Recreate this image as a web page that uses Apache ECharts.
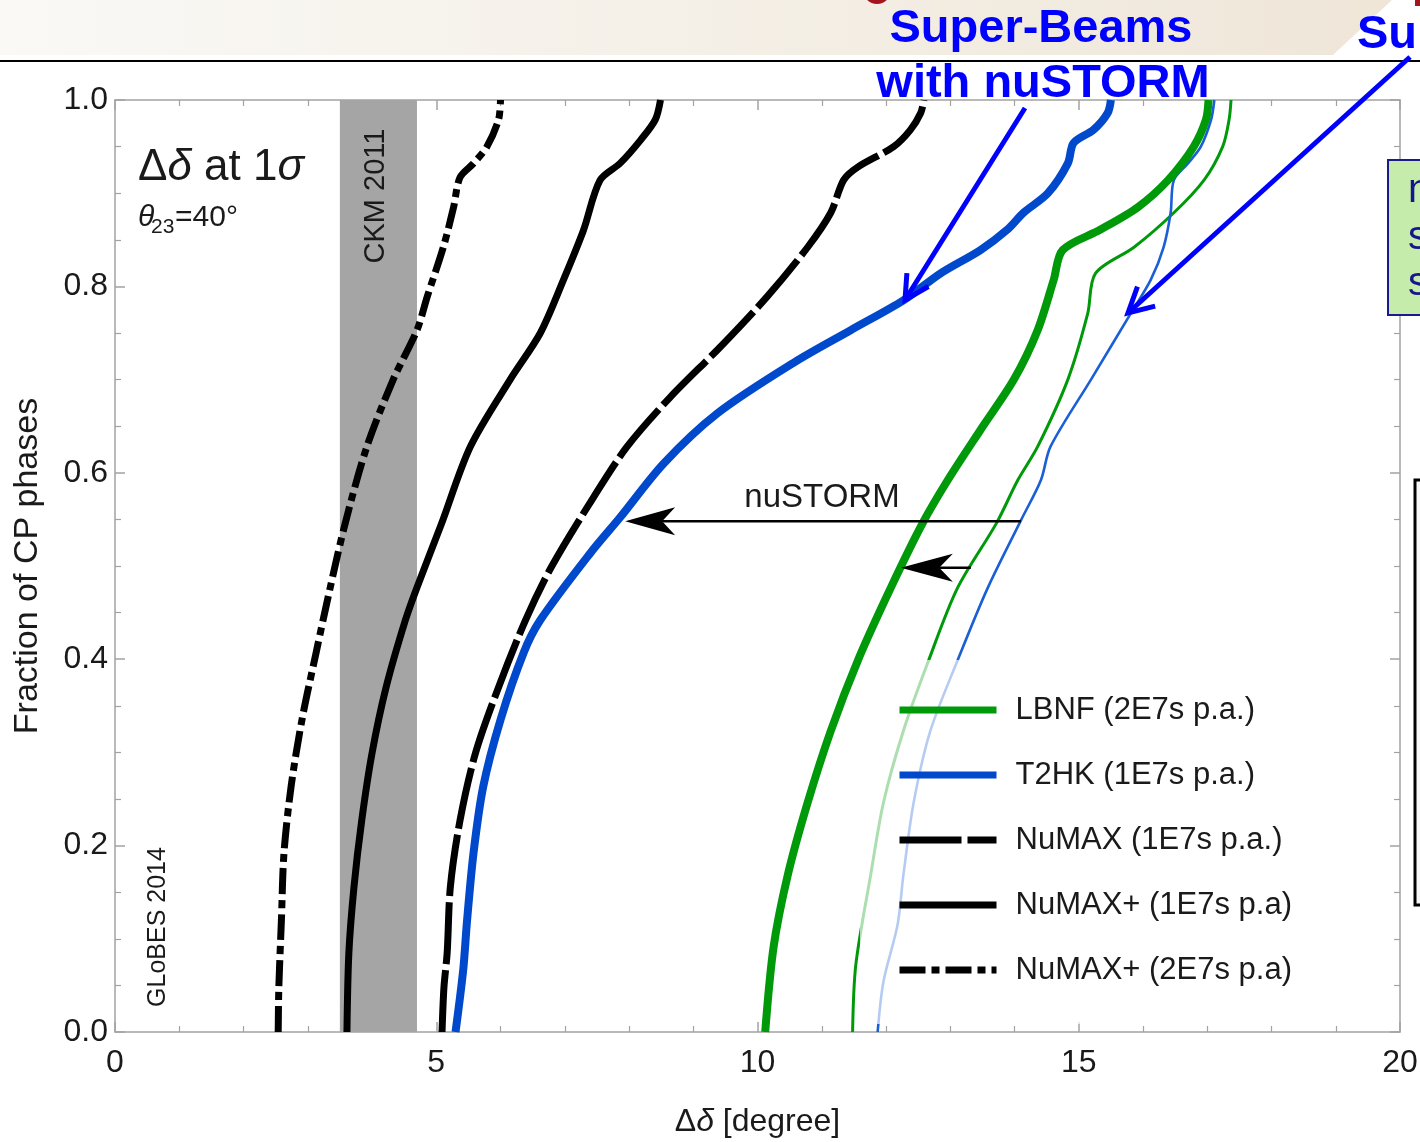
<!DOCTYPE html>
<html>
<head>
<meta charset="utf-8">
<script src="https://cdn.jsdelivr.net/npm/echarts@6/dist/echarts.min.js"></script>
<style>html,body{margin:0;padding:0;background:#fff;overflow:hidden}#c{width:1420px;height:1142px}</style>
</head>
<body>
<div id="c"></div>
<script>
// ---------- data (Δδ in degree, fraction of CP phases) ----------
const legendNames = ['LBNF (2E7s p.a.)', 'T2HK (1E7s p.a.)', 'NuMAX (1E7s p.a.)', 'NuMAX+ (1E7s p.a)', 'NuMAX+ (2E7s p.a)'];
const ckmBand = [3.5, 4.7];
const xTickValues = [0, 5, 10, 15, 20];
const yTickValues = [0, 0.2, 0.4, 0.6, 0.8, 1.0];

const lbnfWithNuSTORM = [[10.12,0],[10.25,0.091],[10.47,0.168],[10.78,0.246],[11.14,0.323],[11.57,0.40],[12.07,0.476],[12.57,0.546],[12.96,0.592],[13.47,0.646],[13.99,0.70],[14.36,0.753],[14.61,0.807],[14.75,0.839],[15.34,0.861],[15.92,0.885],[16.39,0.914],[16.79,0.95],[16.98,0.979],[17.02,1.0]];
const lbnfAlone = [[11.48,0],[11.53,0.072],[11.76,0.168],[11.96,0.246],[12.27,0.323],[12.66,0.398],[13.11,0.476],[13.72,0.546],[14.05,0.592],[14.36,0.628],[14.83,0.70],[15.14,0.771],[15.26,0.814],[15.86,0.842],[16.48,0.879],[16.95,0.914],[17.24,0.95],[17.34,0.979],[17.37,1.0]];
const t2hkWithNuSTORM = [[5.30,0],[5.42,0.067],[5.48,0.12],[5.58,0.192],[5.73,0.263],[6.00,0.335],[6.36,0.407],[6.62,0.442],[7.40,0.514],[7.86,0.552],[8.54,0.61],[9.38,0.664],[10.56,0.718],[11.45,0.753],[12.27,0.785],[12.85,0.814],[13.47,0.839],[13.89,0.861],[14.14,0.879],[14.52,0.90],[14.83,0.932],[14.92,0.954],[15.23,0.968],[15.45,0.986],[15.50,1.0]];
const t2hkAlone = [[11.87,0],[11.96,0.054],[12.18,0.115],[12.27,0.168],[12.43,0.246],[12.69,0.323],[13.11,0.398],[13.58,0.476],[14.10,0.549],[14.41,0.592],[14.56,0.628],[15.19,0.70],[15.81,0.771],[16.12,0.807],[16.32,0.842],[16.43,0.879],[16.48,0.914],[16.70,0.932],[16.90,0.95],[17.06,0.979],[17.11,1.0]];
const numax1E7 = [[5.09,0],[5.12,0.048],[5.17,0.085],[5.22,0.156],[5.37,0.227],[5.61,0.299],[5.97,0.37],[6.39,0.442],[6.80,0.50],[7.45,0.574],[7.97,0.628],[8.64,0.681],[9.42,0.735],[10.15,0.789],[10.78,0.842],[11.14,0.879],[11.34,0.914],[11.56,0.928],[12.12,0.95],[12.38,0.968],[12.54,0.986],[12.59,1.0]];
const numaxPlus1E7 = [[3.61,0],[3.64,0.085],[3.72,0.156],[3.84,0.227],[4.00,0.299],[4.22,0.37],[4.52,0.442],[4.70,0.477],[5.08,0.545],[5.53,0.628],[6.15,0.70],[6.62,0.75],[6.98,0.807],[7.29,0.86],[7.55,0.914],[7.86,0.932],[8.18,0.957],[8.41,0.979],[8.49,1.0]];
const numaxPlus2E7 = [[2.54,0],[2.55,0.048],[2.59,0.12],[2.63,0.192],[2.74,0.263],[2.91,0.335],[3.13,0.407],[3.35,0.477],[3.58,0.545],[3.92,0.628],[4.33,0.70],[4.70,0.753],[4.86,0.789],[5.11,0.842],[5.27,0.885],[5.37,0.917],[5.58,0.932],[5.79,0.95],[5.97,0.979],[6.0,1.0]];

// nuSTORM improvement arrows: [from Δδ, to Δδ, fraction]
const shiftT2HK = [14.10, 7.94, 0.548];
const shiftLBNF = [13.32, 12.23, 0.498];

// ---------- styling ----------
const FONT = "'Liberation Sans', Arial, Helvetica, sans-serif";
const TXT = '#1a1a1a';
const GREEN = '#00990a';
const BLUE = '#0048cc';
const BLUE_THIN = '#1b5fd6';
const AX = '#a2a2a2';

const axisBase = {
  axisLine: { show: true, onZero: false, lineStyle: { color: AX, width: 1.5 } },
  axisTick: { show: true, inside: true, length: 10, lineStyle: { color: AX, width: 1.5 } },
  minorTick: { show: true, length: 6, lineStyle: { color: AX, width: 1.2 } },
  splitLine: { show: false },
  minorSplitLine: { show: false }
};

function lineSeries(name, data, color, width, dash, z) {
  return {
    name: name, type: 'line', data: data, symbol: 'none', showSymbol: false,
    smooth: 0.3, z: z || 3, silent: true,
    lineStyle: { color: color, width: width, type: dash || 'solid', cap: 'butt', join: 'round' },
    itemStyle: { color: color }
  };
}

const chart = echarts.init(document.getElementById('c'), null, { renderer: 'canvas' });

const option = {
  animation: false,
  backgroundColor: '#ffffff',
  grid: { left: 115, right: 20, top: 100, bottom: 110, containLabel: false, outerBoundsMode: 'none' },
  xAxis: [
    Object.assign({}, axisBase, {
      type: 'value', min: xTickValues[0], max: xTickValues[xTickValues.length - 1], interval: 5,
      minorTick: Object.assign({}, axisBase.minorTick, { splitNumber: 5 }),
      axisLabel: { fontSize: 32, color: TXT, fontFamily: FONT, margin: 15 },
      name: '{n|Δ}{i|δ}{n| [degree]}', nameLocation: 'middle', nameGap: 74,
      nameTextStyle: { rich: {
        n: { fontSize: 32, fontFamily: FONT, color: TXT },
        i: { fontSize: 32, fontFamily: FONT, color: TXT, fontStyle: 'italic' } } }
    }),
    Object.assign({}, axisBase, {
      type: 'value', position: 'top', min: 0, max: 20, interval: 5,
      minorTick: Object.assign({}, axisBase.minorTick, { splitNumber: 5 }),
      axisLabel: { show: false }
    })
  ],
  yAxis: [
    Object.assign({}, axisBase, {
      type: 'value', min: yTickValues[0], max: yTickValues[yTickValues.length - 1], interval: 0.2,
      minorTick: Object.assign({}, axisBase.minorTick, { splitNumber: 4 }),
      axisLabel: { fontSize: 32, color: TXT, fontFamily: FONT, margin: 7, formatter: v => v.toFixed(1) },
      name: 'Fraction of CP phases', nameLocation: 'middle', nameGap: 70,
      nameTextStyle: { fontSize: 34, fontFamily: FONT, color: TXT }
    }),
    Object.assign({}, axisBase, {
      type: 'value', position: 'right', min: 0, max: 1, interval: 0.2,
      minorTick: Object.assign({}, axisBase.minorTick, { splitNumber: 4 }),
      axisLabel: { show: false }
    })
  ],
  legend: {
    data: legendNames,
    orient: 'vertical', left: 860, top: 660,
    padding: [30, 16, 34, 36],
    itemWidth: 97, itemHeight: 14, itemGap: 25,
    backgroundColor: 'rgba(255,255,255,0.68)',
    selectedMode: false,
    lineStyle: { width: 7 },
    itemStyle: { opacity: 0, borderWidth: 0 },
    textStyle: { fontSize: 31, fontFamily: FONT, color: TXT, lineHeight: 40, padding: [0, 0, 0, 14] }
  },
  series: [
    {
      type: 'line', data: [], z: 1, silent: true,
      markArea: { silent: true, itemStyle: { color: '#a5a5a5', opacity: 1 },
        data: [[{ xAxis: ckmBand[0] }, { xAxis: ckmBand[1] }]] }
    },
    lineSeries(legendNames[0], lbnfWithNuSTORM, GREEN, 8, 'solid', 4),
    lineSeries(legendNames[1], t2hkWithNuSTORM, BLUE, 8, 'solid', 4),
    lineSeries(legendNames[2], numax1E7, '#000', 7, [62, 6], 4),
    lineSeries(legendNames[3], numaxPlus1E7, '#000', 7, 'solid', 4),
    lineSeries(legendNames[4], numaxPlus2E7, '#000', 7, [26, 6, 8, 6], 4),
    lineSeries(legendNames[0], lbnfAlone, GREEN, 3, 'solid', 3),
    lineSeries(legendNames[1], t2hkAlone, BLUE_THIN, 2.6, 'solid', 3)
  ]
};
chart.setOption(option);

// ---------- annotations ----------
function px(x, y) { return chart.convertToPixel({ xAxisIndex: 0, yAxisIndex: 0 }, [x, y]); }
function headLeft(tip, len, halfW) {
  return [[tip[0], tip[1]], [tip[0] + len, tip[1] - halfW], [tip[0] + len * 0.74, tip[1]], [tip[0] + len, tip[1] + halfW]];
}
function blueArrow(tail, tip, wing) {
  const dx = tail[0] - tip[0], dy = tail[1] - tip[1];
  const L = Math.hypot(dx, dy), ux = dx / L, uy = dy / L;
  const a = 28 * Math.PI / 180;
  const w1 = [tip[0] + wing * (ux * Math.cos(a) - uy * Math.sin(a)), tip[1] + wing * (ux * Math.sin(a) + uy * Math.cos(a))];
  const w2 = [tip[0] + wing * (ux * Math.cos(-a) - uy * Math.sin(-a)), tip[1] + wing * (ux * Math.sin(-a) + uy * Math.cos(-a))];
  const st = { stroke: '#0000ff', lineWidth: 5, lineCap: 'butt', lineJoin: 'miter', fill: null };
  return [
    { type: 'line', z: 120, shape: { x1: tail[0], y1: tail[1], x2: tip[0], y2: tip[1] }, style: st },
    { type: 'polyline', z: 120, shape: { points: [w1, tip, w2] }, style: st }
  ];
}

const a1s = px(shiftT2HK[0], shiftT2HK[2]), a1e = px(shiftT2HK[1], shiftT2HK[2]);
const a2s = px(shiftLBNF[0], shiftLBNF[2]), a2e = px(shiftLBNF[1], shiftLBNF[2]);
const ckmTop = px((ckmBand[0] + ckmBand[1]) / 2, 1);

const graphics = [
  // slide header
  { type: 'polygon', z: 0, shape: { points: [[0, 0], [1392, 0], [1333, 55], [0, 55]] },
    style: { fill: new echarts.graphic.LinearGradient(0, 0, 1, 0, [{ offset: 0, color: '#faf9f6' }, { offset: 1, color: '#efe6d8' }]) } },
  { type: 'circle', z: 1, shape: { cx: 877, cy: -10, r: 14 }, style: { fill: '#a3141e' } },
  { type: 'rect', z: 1, shape: { x: 1415, y: 0, width: 6, height: 6 }, style: { fill: '#a3141e' } },
  { type: 'line', z: 1, shape: { x1: 0, y1: 61, x2: 1420, y2: 61 }, style: { stroke: '#000', lineWidth: 2 } },
  { type: 'text', z: 130, x: 1041, y: 29, style: { text: 'Super-Beams', font: 'bold 47px ' + FONT, fill: '#0000ff', align: 'center', verticalAlign: 'middle' } },
  { type: 'text', z: 130, x: 1043, y: 84, style: { text: 'with nuSTORM', font: 'bold 47px ' + FONT, fill: '#0000ff', align: 'center', verticalAlign: 'middle' } },
  { type: 'text', z: 130, x: 1357, y: 35, style: { text: 'Super-Beams', font: 'bold 47px ' + FONT, fill: '#0000ff', align: 'left', verticalAlign: 'middle' } },
  // right side boxes of the slide
  { type: 'rect', z: 110, shape: { x: 1388, y: 160, width: 60, height: 155 }, style: { fill: '#c5ecaa', stroke: '#1a1a8c', lineWidth: 2 } },
  { type: 'text', z: 111, x: 1408, y: 191, style: { text: 'n', font: '40px ' + FONT, fill: '#16168a', verticalAlign: 'middle' } },
  { type: 'text', z: 111, x: 1408, y: 238, style: { text: 's', font: '40px ' + FONT, fill: '#16168a', verticalAlign: 'middle' } },
  { type: 'text', z: 111, x: 1408, y: 284, style: { text: 's', font: '40px ' + FONT, fill: '#16168a', verticalAlign: 'middle' } },
  { type: 'rect', z: 110, shape: { x: 1415, y: 480, width: 40, height: 425 }, style: { fill: '#f7f7f7', stroke: '#000', lineWidth: 3 } }
].concat(
  blueArrow([1025, 108], [905, 300], 27),
  blueArrow([1410, 57], [1128, 313], 28),
  [
    // plot labels
    { type: 'text', z: 100, x: 138, y: 168, style: { text: '{n|Δ}{i|δ}{n| at 1}{i|σ}', align: 'left', verticalAlign: 'middle',
        rich: { n: { font: '44px ' + FONT, fill: TXT }, i: { font: 'italic 44px ' + FONT, fill: TXT } } } },
    { type: 'text', z: 100, x: 138, y: 218, style: { text: 'θ', font: 'italic 30px ' + FONT, fill: TXT, verticalAlign: 'middle' } },
    { type: 'text', z: 100, x: 151, y: 227, style: { text: '23', font: '21px ' + FONT, fill: TXT, verticalAlign: 'middle' } },
    { type: 'text', z: 100, x: 175, y: 218, style: { text: '=40°', font: '30px ' + FONT, fill: TXT, verticalAlign: 'middle' } },
    { type: 'text', z: 100, x: ckmTop[0] - 2, y: 196, rotation: Math.PI / 2, style: { text: 'CKM 2011', font: '29px ' + FONT, fill: TXT, align: 'center', verticalAlign: 'middle' } },
    { type: 'text', z: 100, x: 158, y: 927, rotation: Math.PI / 2, style: { text: 'GLoBES 2014', font: '25px ' + FONT, fill: TXT, align: 'center', verticalAlign: 'middle' } },
    // nuSTORM arrows (data anchored)
    { type: 'line', z: 100, shape: { x1: a1s[0], y1: a1s[1], x2: a1e[0] + 30, y2: a1e[1] }, style: { stroke: '#000', lineWidth: 2.5 } },
    { type: 'polygon', z: 100, shape: { points: headLeft(a1e, 50, 14) }, style: { fill: '#000' } },
    { type: 'line', z: 100, shape: { x1: a2s[0], y1: a2s[1], x2: a2e[0] + 30, y2: a2e[1] }, style: { stroke: '#000', lineWidth: 2.5 } },
    { type: 'polygon', z: 100, shape: { points: headLeft(a2e, 52, 14) }, style: { fill: '#000' } },
    { type: 'text', z: 100, x: 822, y: 498, style: { text: 'nuSTORM', font: '33px ' + FONT, fill: TXT, align: 'center', verticalAlign: 'middle' } }
  ]
);
chart.setOption({ graphic: graphics });
</script>
</body>
</html>
